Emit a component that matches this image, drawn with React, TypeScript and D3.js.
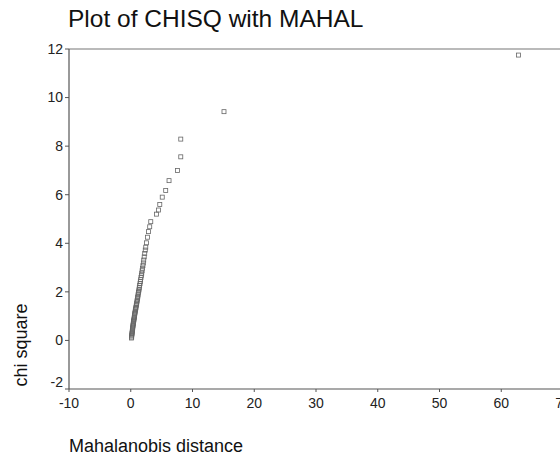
import React from "react";
import * as d3 from "d3";

const mahal = [
  0.12, 0.15, 0.14, 0.18, 0.2, 0.22, 0.25, 0.26, 0.3, 0.31, 0.33, 0.36, 0.38, 0.41, 0.43, 0.45,
  0.49, 0.52, 0.55, 0.58, 0.6, 0.63, 0.66, 0.7, 0.73, 0.77, 0.8, 0.84, 0.88, 0.92, 0.96, 1.0,
  1.04, 1.08, 1.12, 1.16, 1.2, 1.25, 1.3, 1.35, 1.39, 1.44, 1.5, 1.55, 1.6, 1.66, 1.72, 1.78,
  1.84, 1.9, 1.97, 2.04, 2.1, 2.18, 2.26, 2.35, 2.43, 2.54, 2.7, 2.86, 3.07, 3.24, 4.16, 4.5,
  4.7, 5.1, 5.66, 6.2, 7.56, 8.1, 8.1, 15.1, 62.8,
];
const chisq = [
  0.1, 0.14, 0.19, 0.23, 0.28, 0.32, 0.37, 0.41, 0.46, 0.5, 0.55, 0.6, 0.64, 0.69, 0.73, 0.78,
  0.82, 0.87, 0.92, 0.96, 1.01, 1.06, 1.11, 1.16, 1.21, 1.26, 1.31, 1.36, 1.42, 1.47, 1.53, 1.59,
  1.65, 1.71, 1.77, 1.83, 1.9, 1.97, 2.04, 2.11, 2.18, 2.26, 2.34, 2.42, 2.5, 2.59, 2.68, 2.77,
  2.87, 2.97, 3.08, 3.19, 3.31, 3.44, 3.58, 3.72, 3.84, 4.02, 4.25, 4.48, 4.68, 4.89, 5.2, 5.37,
  5.6, 5.9, 6.17, 6.58, 7.0, 7.56, 8.29, 9.42, 11.75,
];
const xTicks = [-10, 0, 10, 20, 30, 40, 50, 60, 70];
const yTicks = [-2, 0, 2, 4, 6, 8, 10, 12];

const title = "Plot of CHISQ with MAHAL";
const xTitle = "Mahalanobis distance";
const yTitle = "chi square";

export default function App() {
  const W = 560;
  const H = 457;
  const x = d3.scaleLinear().domain([-10, 70]).range([69, 563]);
  const y = d3.scaleLinear().domain([-2, 12]).range([389, 49]);
  const font = "'Liberation Sans', Arial, sans-serif";
  const axisColor = "#555";
  const pts = mahal.map((m, i) => ({ m, c: chisq[i] }));
  const s = 4;
  return (
    <svg
      width={W}
      height={H}
      style={{ position: "absolute", left: 0, top: 0, background: "#fff" }}
      fontFamily={font}
    >
      <rect width={W} height={H} fill="#fff" />
      <text x={68} y={27} fontSize={24.5} fill="#111">
        {title}
      </text>
      <line x1={x(-10)} x2={W} y1={y(12)} y2={y(12)} stroke="#777" strokeWidth={1.2} />
      <line x1={x(-10)} x2={x(-10)} y1={y(12)} y2={y(-2)} stroke={axisColor} strokeWidth={1.2} />
      <line x1={x(-10)} x2={W} y1={y(-2)} y2={y(-2)} stroke={axisColor} strokeWidth={1.2} />
      {yTicks.map((t) => (
        <g key={"y" + t}>
          <line x1={x(-10) - 4} x2={x(-10)} y1={y(t)} y2={y(t)} stroke={axisColor} />
          <text
            x={x(-10) - 6}
            y={t === -2 ? y(t) - 7 : y(t)}
            dy="0.35em"
            textAnchor="end"
            fontSize={14}
            fill="#222"
          >
            {t}
          </text>
        </g>
      ))}
      {xTicks.map((t) => (
        <g key={"x" + t}>
          <line x1={x(t)} x2={x(t)} y1={y(-2)} y2={y(-2) + 3} stroke={axisColor} />
          <text x={x(t)} y={y(-2) + 19} textAnchor="middle" fontSize={14} fill="#222">
            {t}
          </text>
        </g>
      ))}
      {pts.map((p, i) => (
        <rect
          key={i}
          x={x(p.m) - s / 2}
          y={y(p.c) - s / 2}
          width={s}
          height={s}
          fill="none"
          stroke="#666"
          strokeWidth={0.8}
        />
      ))}
      <text x={69} y={452} fontSize={18} fill="#111">
        {xTitle}
      </text>
      <text transform="translate(27,345) rotate(-90)" textAnchor="middle" fontSize={18} fill="#111">
        {yTitle}
      </text>
    </svg>
  );
}
